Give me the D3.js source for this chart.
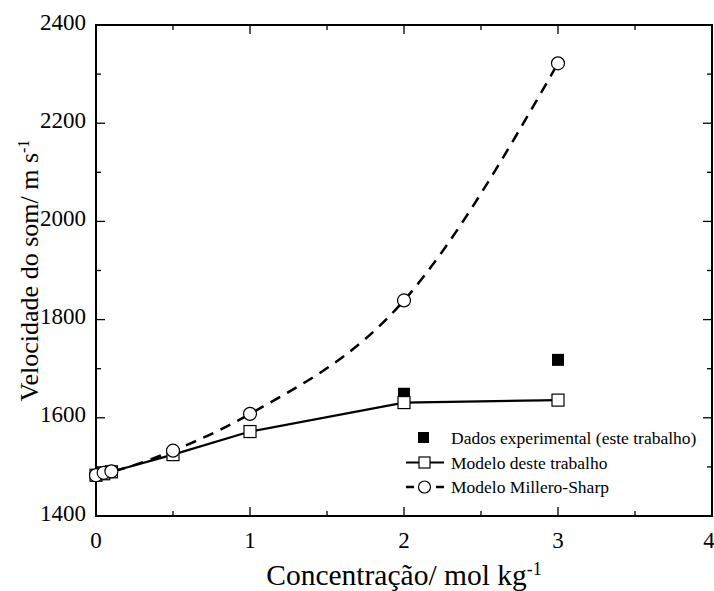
<!DOCTYPE html>
<html>
<head>
<meta charset="utf-8">
<script src="https://cdn.jsdelivr.net/npm/d3@7"></script>
<style>
  body { margin: 0; background: #fff; }
</style>
</head>
<body>
<div id="chart"></div>
<script>
// concentrations (mol/kg) and sound speeds (m/s)
let concModel = [0, 0.05, 0.1, 0.5, 1, 2, 3];
let speedModel = [1483, 1486, 1490, 1525, 1572, 1631, 1636];
let concMS = [0, 0.05, 0.1, 0.5, 1, 2, 3];
let speedMS = [1483, 1488, 1491, 1533, 1608, 1839, 2322];
let concExp = [2, 3];
let speedExp = [1649, 1718];
let xTicks = [0, 1, 2, 3, 4];
let yTicks = [1400, 1600, 1800, 2000, 2200, 2400];
let legendLabels = ['Dados experimental (este trabalho)', 'Modelo deste trabalho', 'Modelo Millero-Sharp'];

let serif = "'Liberation Serif', 'DejaVu Serif', serif";
let margin = {top: 25, right: 2, bottom: 75, left: 96};
let W = 714, H = 591;

let svg = d3.select('#chart').append('svg')
    .attr('width', W)
    .attr('height', H)
    .attr('font-family', serif)
    .style('font-family', serif);

let g = svg.append('g')
    .attr('transform', 'translate(' + margin.left + ',' + margin.top + ')');

let x = d3.scaleLinear().domain([0, 4]).range([0, 616]);
let y = d3.scaleLinear().domain([1400, 2400]).range([491, 0]);

let pw = x(4), ph = y(1400);

// ticks, all pointing inward, mirrored on top and right
let xMinor = d3.range(0.5, 4, 1);
let yMinor = d3.range(1500, 2400, 200);

function tickLines(vals, len, horizontal) {
    vals.forEach(function(v) {
        if (horizontal) {
            g.append('line').attr('x1', x(v)).attr('x2', x(v)).attr('y1', ph).attr('y2', ph - len)
                .attr('stroke', '#000').attr('stroke-width', 1.3);
            g.append('line').attr('x1', x(v)).attr('x2', x(v)).attr('y1', 0).attr('y2', len)
                .attr('stroke', '#000').attr('stroke-width', 1.3);
        } else {
            g.append('line').attr('x1', 0).attr('x2', len).attr('y1', y(v)).attr('y2', y(v))
                .attr('stroke', '#000').attr('stroke-width', 1.3);
            g.append('line').attr('x1', pw).attr('x2', pw - len).attr('y1', y(v)).attr('y2', y(v))
                .attr('stroke', '#000').attr('stroke-width', 1.3);
        }
    });
}
tickLines(xTicks, 9, true);
tickLines(xMinor, 5, true);
tickLines(yTicks, 9, false);
tickLines(yMinor, 5, false);

g.append('rect')
    .attr('x', 0).attr('y', 0)
    .attr('width', pw).attr('height', ph)
    .attr('fill', 'none')
    .attr('stroke', '#000')
    .attr('stroke-width', 2);

// tick labels
g.selectAll('text.xlab').data(xTicks).enter().append('text')
    .attr('class', 'xlab')
    .attr('x', function(d) { return d === 4 ? x(d) - 3 : x(d); })
    .attr('y', ph + 32)
    .attr('text-anchor', 'middle')
    .style('font-size', '23px')
    .text(function(d) { return d; });

g.selectAll('text.ylab').data(yTicks).enter().append('text')
    .attr('class', 'ylab')
    .attr('x', -10)
    .attr('y', function(d) { return y(d); })
    .attr('dy', '0.2em')
    .attr('text-anchor', 'end')
    .style('font-size', '23px')
    .text(function(d) { return d; });

// axis titles
let xt = svg.append('text')
    .attr('x', margin.left + pw / 2)
    .attr('y', 585)
    .attr('text-anchor', 'middle')
    .style('font-size', '29.5px');
xt.append('tspan').text('Concentração/ mol kg');
xt.append('tspan').attr('dy', '-0.55em').style('font-size', '18px').text('-1');

let yt = svg.append('text')
    .attr('transform', 'translate(38,' + (margin.top + ph / 2) + ') rotate(-90)')
    .attr('text-anchor', 'middle')
    .style('font-size', '26px');
yt.append('tspan').text('Velocidade do som/ m s');
yt.append('tspan').attr('dy', '-0.55em').style('font-size', '16px').text('-1');

// lines
let modelData = concModel.map(function(c, i) { return [c, speedModel[i]]; });
let msData = concMS.map(function(c, i) { return [c, speedMS[i]]; });
let expData = concExp.map(function(c, i) { return [c, speedExp[i]]; });

let line = d3.line()
    .x(function(d) { return x(d[0]); })
    .y(function(d) { return y(d[1]); });

g.append('path')
    .datum(msData)
    .attr('d', line.curve(d3.curveMonotoneX))
    .attr('fill', 'none')
    .attr('stroke', '#000')
    .attr('stroke-width', 2.5)
    .attr('stroke-dasharray', '11,8');

g.append('path')
    .datum(modelData)
    .attr('d', d3.line().x(function(d) { return x(d[0]); }).y(function(d) { return y(d[1]); }))
    .attr('fill', 'none')
    .attr('stroke', '#000')
    .attr('stroke-width', 2.2);

let sq = 12;
g.selectAll('rect.exp').data(expData).enter().append('rect')
    .attr('class', 'exp')
    .attr('x', function(d) { return x(d[0]) - sq / 2; })
    .attr('y', function(d) { return y(d[1]) - sq / 2; })
    .attr('width', sq).attr('height', sq)
    .attr('fill', '#000');

g.selectAll('rect.model').data(modelData).enter().append('rect')
    .attr('class', 'model')
    .attr('x', function(d) { return x(d[0]) - sq / 2; })
    .attr('y', function(d) { return y(d[1]) - sq / 2; })
    .attr('width', sq).attr('height', sq)
    .attr('fill', '#fff')
    .attr('stroke', '#000')
    .attr('stroke-width', 1.2);

g.selectAll('circle.ms').data(msData).enter().append('circle')
    .attr('class', 'ms')
    .attr('cx', function(d) { return x(d[0]); })
    .attr('cy', function(d) { return y(d[1]); })
    .attr('r', 6.5)
    .attr('fill', '#fff')
    .attr('stroke', '#000')
    .attr('stroke-width', 1.2);

// legend
let lg = svg.append('g').attr('transform', 'translate(406,438)');
let rowH = 24.5;

lg.append('rect').attr('x', 12).attr('y', -6).attr('width', 11).attr('height', 11).attr('fill', '#000');

lg.append('line').attr('x1', 0).attr('x2', 38).attr('y1', rowH).attr('y2', rowH)
    .attr('stroke', '#000').attr('stroke-width', 2.2);
lg.append('rect').attr('x', 13).attr('y', rowH - 5.5).attr('width', 11).attr('height', 11)
    .attr('fill', '#fff').attr('stroke', '#000').attr('stroke-width', 1.2);

lg.append('line').attr('x1', 0).attr('x2', 38).attr('y1', 2 * rowH).attr('y2', 2 * rowH)
    .attr('stroke', '#000').attr('stroke-width', 2.5).attr('stroke-dasharray', '8,22');
lg.append('circle').attr('cx', 18.5).attr('cy', 2 * rowH).attr('r', 6)
    .attr('fill', '#fff').attr('stroke', '#000').attr('stroke-width', 1.2);

lg.selectAll('text').data(legendLabels).enter().append('text')
    .attr('x', 45)
    .attr('y', function(d, i) { return i * rowH; })
    .attr('dy', '0.35em')
    .style('font-size', '17.5px')
    .text(function(d) { return d; });
</script>
</body>
</html>
